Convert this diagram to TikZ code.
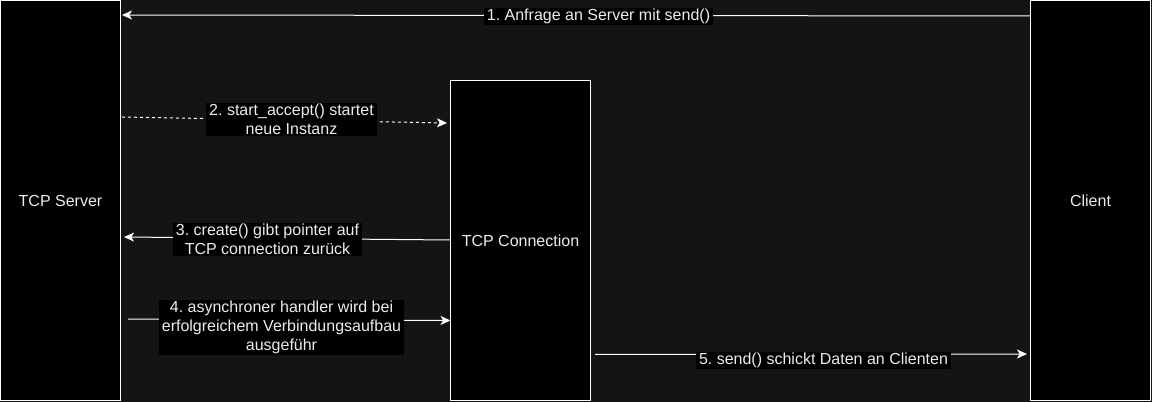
\documentclass[tikz,border=0pt]{standalone}
\usepackage{fontspec}
\setmainfont{Liberation Sans}
\usetikzlibrary{arrows.meta}
\definecolor{bg}{RGB}{20,20,20}
\definecolor{txt}{RGB}{236,236,236}
\frenchspacing
\begin{document}
\begin{tikzpicture}[x=0.75pt,y=-0.75pt,
  box/.style={draw=white,fill=black,line width=0.75pt,inner sep=0pt,outer sep=0pt,
    text=txt,font=\fontsize{12}{14.3}\selectfont},
  conn/.style={draw=white,line width=0.75pt,-{Stealth[length=7.5pt,width=6.75pt,inset=2pt]}},
  lbl/.style={fill=black,text=txt,inner xsep=2.5pt,inner ysep=1pt,align=center,
    font=\fontsize{12}{14.3}\selectfont}]
\fill[bg] (0,0) rectangle (1152,402);
\useasboundingbox (0,0) rectangle (1152,402);
\node[box,minimum width=90pt,minimum height=300pt] (server) at (60.5,200.5) {TCP Server};
\node[box,minimum width=90pt,minimum height=300pt] (client) at (1090.5,200.5) {Client};
\node[box,minimum width=105pt,minimum height=240pt] (tcpconn) at (520.5,240.5) {TCP Connection};
% end points
\coordinate (a1s) at (client.west |- 0,16);
\coordinate (a1e) at (122,15);
\coordinate (a2s) at (122,117);
\coordinate (a2e) at (447,123);
\coordinate (a3s) at (tcpconn.west |- 0,240);
\coordinate (a3e) at (124,237);
\coordinate (a4s) at (128,319);
\coordinate (a4e) at (tcpconn.west |- 0,320.5);
\coordinate (a5s) at (595,354.5);
\coordinate (a5e) at (1027,354);
\draw[conn] (a1s) -- (a1e);
\draw[conn,dash pattern=on 2.25pt off 2.25pt] (a2s) -- (a2e);
\draw[conn] (a3s) -- (a3e);
\draw[conn] (a4s) -- (a4e);
\draw[conn] (a5s) -- (a5e);
\node[lbl] (l1) at (598.5,16.5) {1. Anfrage an Server mit send()};
\node[lbl] (l2) at (291.5,119.5) {2. start\_accept() startet\\neue Instanz};
\node[lbl] (l3) at (267.5,239.5) {3. create() gibt pointer auf\\TCP connection zurück};
\node[lbl] (l4) at (281.5,327.5) {4. asynchroner handler wird bei\\erfolgreichem Verbindungsaufbau\\ausgeführ};
\node[lbl] (l5) at (823.5,360.5) {5. send() schickt Daten an Clienten};
\end{tikzpicture}
\end{document}
